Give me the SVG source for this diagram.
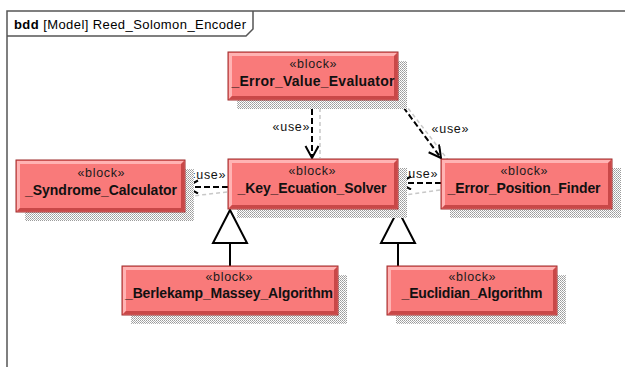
<svg xmlns="http://www.w3.org/2000/svg" width="625" height="367" viewBox="0 0 625 367">
<defs>
<pattern id="dots" width="2" height="2" patternUnits="userSpaceOnUse">
<rect width="2" height="2" fill="#ffffff"/>
<rect width="1" height="1" fill="#9a9a9a"/>
<rect x="1" y="1" width="1" height="1" fill="#b0b0b0"/>
</pattern>
<marker id="open" markerWidth="16" markerHeight="16" refX="13" refY="7" orient="auto" markerUnits="userSpaceOnUse">
<path d="M1,0.5 L13,7 L1,13.5" fill="none" stroke="#000" stroke-width="2"/>
</marker>
</defs>
<style>
.shadow{fill:url(#dots)}
.box{fill:#f97a7a;stroke:#9c2b2b;stroke-width:1}
.hi{fill:#ffb3b3}
.lo{fill:#c94848}
.st{font-family:"Liberation Sans",Arial,sans-serif;font-size:12.5px;fill:#1a1a1a;text-anchor:middle}
.nm{font-family:"Liberation Sans",Arial,sans-serif;font-size:14px;font-weight:bold;fill:#111;text-anchor:middle}
.lbl{font-family:"Liberation Sans",Arial,sans-serif;font-size:12.5px;fill:#111;text-anchor:middle}
.dep{fill:none;stroke:#000;stroke-width:2;stroke-dasharray:6,3}
.depsh{fill:none;stroke:#c8c8c8;stroke-width:1.5;stroke-dasharray:4,3}
.gen{fill:none;stroke:#000;stroke-width:2}
.tri{fill:#fff;stroke:#000;stroke-width:2}
.frame{fill:none;stroke:#555;stroke-width:1.5}
</style>
<rect width="625" height="367" fill="#fff"/>
<g id="frame">
<path class="frame" d="M7,367 V11 H625"/>
<path class="frame" d="M7,36 H246 L253,29 V11"/>
<text x="14" y="29" font-family="Liberation Sans,Arial,sans-serif" font-size="13" fill="#000" textLength="232" lengthAdjust="spacing"><tspan font-weight="bold">bdd</tspan> [Model] Reed_Solomon_Encoder</text>
</g>
<g id="connectors">
<path class="depsh" d="M320,101 V158"/>
<path class="depsh" d="M404,103 L448,160"/>
<path class="depsh" d="M440,190 L405,195"/>
<path class="depsh" d="M227,192 L192,196"/>
<path class="dep" d="M312,100 V158" marker-end="url(#open)"/>
<text class="lbl" x="291" y="131" textLength="37" lengthAdjust="spacing">«use»</text>
<path class="dep" d="M398,100 L441,158" marker-end="url(#open)"/>
<text class="lbl" x="450" y="133" textLength="37" lengthAdjust="spacing">«use»</text>
<path class="dep" d="M441,183 H399" marker-end="url(#open)"/>
<text class="lbl" x="419" y="178" textLength="37" lengthAdjust="spacing">«use»</text>
<path class="dep" d="M228,187 H186" marker-end="url(#open)"/>
<text class="lbl" x="207" y="179" textLength="37" lengthAdjust="spacing">«use»</text>
<path class="gen" d="M230,266 V243"/>
<path class="tri" d="M230,210 L213,243 H247 Z"/>
<path class="gen" d="M398,266 V243"/>
<path class="tri" d="M398,210 L381,243 H415 Z"/>
</g>
<g id="Error_Value_Evaluator">
<rect class="shadow" x="237" y="61" width="170" height="48"/>
<rect class="box" x="228" y="52" width="170" height="48"/>
<path class="hi" d="M229,53 H397 L394,56 H232 V96 L229,99 Z"/>
<path class="lo" d="M397,53 V99 H229 L232,96 H394 V56 Z"/>
<text class="st" x="313" y="68" textLength="47" lengthAdjust="spacing">«block»</text>
<text class="nm" x="313" y="86" textLength="163" lengthAdjust="spacing">_Error_Value_Evaluator</text>
</g>
<g id="Syndrome_Calculator">
<rect class="shadow" x="25" y="169" width="169" height="52"/>
<rect class="box" x="16" y="160" width="169" height="52"/>
<path class="hi" d="M17,161 H184 L181,164 H20 V208 L17,211 Z"/>
<path class="lo" d="M184,161 V211 H17 L20,208 H181 V164 Z"/>
<text class="st" x="101" y="177" textLength="47" lengthAdjust="spacing">«block»</text>
<text class="nm" x="101" y="195" textLength="152" lengthAdjust="spacing">_Syndrome_Calculator</text>
</g>
<g id="Key_Ecuation_Solver">
<rect class="shadow" x="237" y="168" width="170" height="50"/>
<rect class="box" x="228" y="159" width="170" height="50"/>
<path class="hi" d="M229,160 H397 L394,163 H232 V205 L229,208 Z"/>
<path class="lo" d="M397,160 V208 H229 L232,205 H394 V163 Z"/>
<text class="st" x="312" y="175" textLength="47" lengthAdjust="spacing">«block»</text>
<text class="nm" x="312" y="193" textLength="149" lengthAdjust="spacing">_Key_Ecuation_Solver</text>
</g>
<g id="Error_Position_Finder">
<rect class="shadow" x="450" y="168" width="171" height="50"/>
<rect class="box" x="441" y="159" width="171" height="50"/>
<path class="hi" d="M442,160 H611 L608,163 H445 V205 L442,208 Z"/>
<path class="lo" d="M611,160 V208 H442 L445,205 H608 V163 Z"/>
<text class="st" x="524" y="175" textLength="47" lengthAdjust="spacing">«block»</text>
<text class="nm" x="524" y="193" textLength="153" lengthAdjust="spacing">_Error_Position_Finder</text>
</g>
<g id="Berlekamp_Massey_Algorithm">
<rect class="shadow" x="131" y="275" width="216" height="49"/>
<rect class="box" x="122" y="266" width="216" height="49"/>
<path class="hi" d="M123,267 H337 L334,270 H126 V311 L123,314 Z"/>
<path class="lo" d="M337,267 V314 H123 L126,311 H334 V270 Z"/>
<text class="st" x="229" y="281" textLength="47" lengthAdjust="spacing">«block»</text>
<text class="nm" x="229" y="298" textLength="208" lengthAdjust="spacing">_Berlekamp_Massey_Algorithm</text>
</g>
<g id="Euclidian_Algorithm">
<rect class="shadow" x="396" y="275" width="170" height="49"/>
<rect class="box" x="387" y="266" width="170" height="49"/>
<path class="hi" d="M388,267 H556 L553,270 H391 V311 L388,314 Z"/>
<path class="lo" d="M556,267 V314 H388 L391,311 H553 V270 Z"/>
<text class="st" x="472" y="281" textLength="47" lengthAdjust="spacing">«block»</text>
<text class="nm" x="472" y="298" textLength="141" lengthAdjust="spacing">_Euclidian_Algorithm</text>
</g>
</svg>
